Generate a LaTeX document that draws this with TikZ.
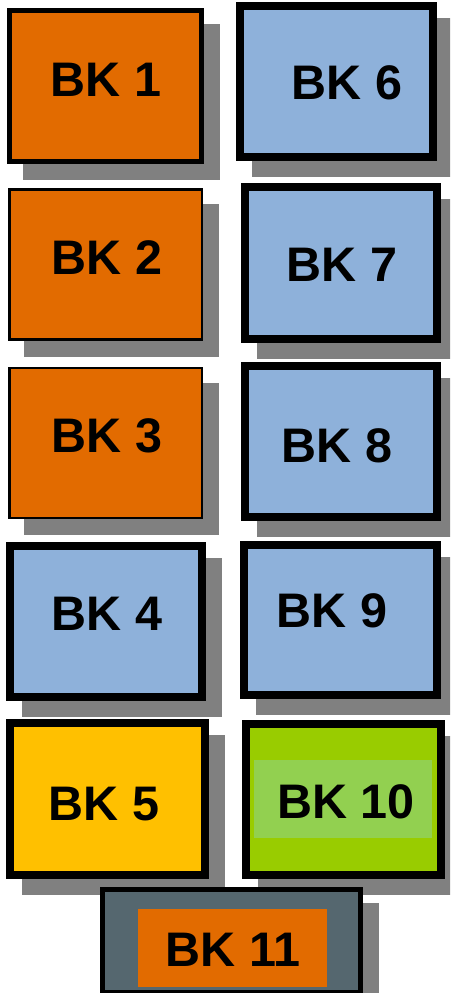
\documentclass[tikz,border=0pt]{standalone}
\usepackage{fontspec}
\setmainfont{Liberation Sans}
\definecolor{bkorange}{HTML}{E26B00}
\definecolor{bkblue}{HTML}{8EB1DA}
\definecolor{bkyellow}{HTML}{FFC000}
\definecolor{bkgreen}{HTML}{99CC00}
\definecolor{bkgreenin}{HTML}{92D050}
\definecolor{bkslate}{HTML}{55676F}
\definecolor{shadowgray}{HTML}{808080}
\newcommand{\bkbox}[7]{%
  \fill[shadowgray] (#2+16,#3+16) rectangle (#4+16,#5+16);
  \pgfmathsetmacro\bkw{#4-#2-#6}%
  \pgfmathsetmacro\bkh{#5-#3-#6}%
  \node[boxstyle, line width=#6pt, fill=#7, minimum width=\bkw pt, minimum height=\bkh pt] (#1) at ({(#2+#4)/2},{(#3+#5)/2}) {};
}
\begin{document}
\begin{tikzpicture}[x=1pt,y=-1pt,
  boxstyle/.style={draw=black, rectangle, inner sep=0pt, outer sep=0pt},
  lbl/.style={font=\bfseries\fontsize{48.5}{50}\selectfont, inner sep=0pt, anchor=base}]
\useasboundingbox (0,0) rectangle (450,993);
\clip (0,0) rectangle (450,993);
% left column
\bkbox{b1}{7.3}{8.3}{204.3}{164.3}{5}{bkorange}
\bkbox{b2}{8.3}{188.3}{203.3}{340.7}{2.7}{bkorange}
\bkbox{b3}{8.3}{366.7}{203.3}{519.3}{2.7}{bkorange}
\bkbox{b4}{6}{542.3}{206}{700.7}{8}{bkblue}
\bkbox{b5}{6}{719.3}{209}{878.7}{8}{bkyellow}
% right column
\bkbox{b6}{236}{2.3}{436.7}{161}{8}{bkblue}
\bkbox{b7}{240.7}{183.3}{440.7}{342.7}{8}{bkblue}
\bkbox{b8}{241}{362.3}{441}{521}{8}{bkblue}
\bkbox{b9}{240.3}{540.7}{440.7}{699.3}{8}{bkblue}
\bkbox{b10}{242.3}{720}{445}{878.7}{8}{bkgreen}
\fill[bkgreenin] (254,760) rectangle (432,837.7);
% bottom
\bkbox{b11}{100}{887.3}{363.3}{995}{5}{bkslate}
\fill[bkorange] (138,909) rectangle (327,986.7);
% labels
\node[lbl] (t1) at (106,96.7) {BK 1};
\node[lbl] (t2) at (107,274.3) {BK 2};
\node[lbl] (t3) at (107,452.3) {BK 3};
\node[lbl] (t4) at (107,630.7) {BK 4};
\node[lbl] (t5) at (104,820) {BK 5};
\node[lbl] (t6) at (347,99) {BK 6};
\node[lbl] (t7) at (342,281.7) {BK 7};
\node[lbl] (t8) at (337,462.3) {BK 8};
\node[lbl] (t9) at (332,627.3) {BK 9};
\node[lbl] (t10) at (346,818) {BK 10};
\node[lbl] (t11) at (233,966.7) {BK 11};
\end{tikzpicture}
\end{document}
